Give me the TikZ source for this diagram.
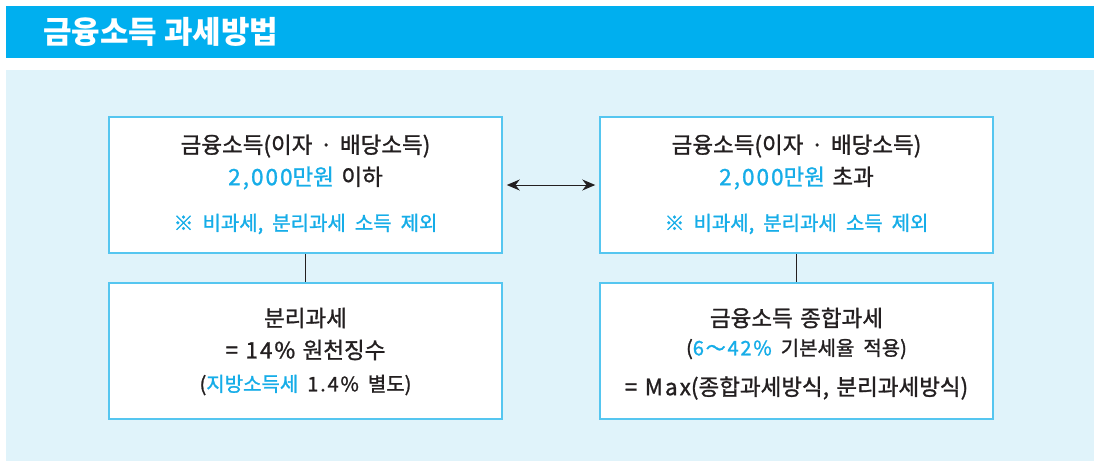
\documentclass[tikz,border=0pt]{standalone}
\usepackage{fontspec}
\setmainfont{Noto Sans CJK KR}
\newfontfamily\bodyfont{Noto Sans CJK KR}[FakeBold=1.2]
\usetikzlibrary{arrows.meta}
\definecolor{titlebar}{HTML}{00AFEF}
\definecolor{panel}{HTML}{E0F3FA}
\definecolor{boxline}{HTML}{55C6F0}
\definecolor{hl}{HTML}{16ADE8}
\definecolor{ink}{HTML}{231F20}
\newcommand{\lsp}[1]{{\addfontfeatures{LetterSpace=9}#1}}
\newcommand{\bigfont}{\bodyfont\fontsize{22.5}{26}\selectfont\spaceskip=0.33em\relax}
\newcommand{\smallfont}{\bodyfont\fontsize{20}{23}\selectfont\spaceskip=0.45em\relax}
\tikzset{
  box/.style={draw=boxline, line width=1.5pt, fill=white, minimum width=393pt, minimum height=136pt, inner sep=0pt},
  big/.style={text=ink, font=\bigfont, inner sep=0pt, anchor=center},
  small/.style={text=ink, font=\smallfont, inner sep=0pt, anchor=center},
  conn/.style={draw=ink, line width=1pt},
  dblarrow/.style={draw=ink, line width=1pt, {Stealth[length=13pt,width=11pt]}-{Stealth[length=13pt,width=11pt]}},
}
\begin{document}
\begin{tikzpicture}[x=1pt,y=-1pt]
\useasboundingbox (0,0) rectangle (1094,461);
\fill[white] (0,0) rectangle (1094,461);
% title bar
\fill[titlebar] (6,6) rectangle (1094,58);
\node[anchor=west, text=white, font=\fontsize{31}{35}\selectfont\bfseries, inner sep=0pt] (title) at (43,32) {금융소득 과세방법};
% panel
\fill[panel] (6,70) rectangle (1094,461);
% boxes
\node[box] (tl) at (305.5,185) {};
\node[box] (tr) at (796.5,185) {};
\node[box] (bl) at (305.5,351) {};
\node[box] (br) at (796.5,351) {};
% connectors
\draw[conn] (tl.south) -- (bl.north);
\draw[conn] (tr.south) -- (br.north);
\path (tl.east) ++(4,0) coordinate (al);
\path (tr.west) ++(-4,0) coordinate (ar);
\draw[dblarrow] (al) -- (ar);
% top-left text
\node[big] (tl1) at (305.5,146) {금융소득(이자 · 배당소득)};
\node[big] (tl2) at (305.5,178) {\textcolor{hl}{\lsp{2,000}만원} 이하};
\node[small, text=hl] (tl3) at (305.5,224) {※ 비과세, 분리과세 소득 제외};
% top-right text
\node[big] (tr1) at (796.5,146) {금융소득(이자 · 배당소득)};
\node[big] (tr2) at (796.5,178) {\textcolor{hl}{\lsp{2,000}만원} 초과};
\node[small, text=hl] (tr3) at (796.5,224) {※ 비과세, 분리과세 소득 제외};
% bottom-left text
\node[big] (bl1) at (305.5,318) {분리과세};
\node[big] (bl2) at (305.5,350) {= \lsp{14\%} 원천징수};
\node[small] (bl3) at (305.5,385) {(\textcolor{hl}{지방소득세} \lsp{1.4\%} 별도)};
% bottom-right text
\node[big] (br1) at (796.5,318) {금융소득 종합과세};
\node[small] (br2) at (796.5,349) {(\textcolor{hl}{\lsp{6～42\%}} 기본세율 적용)};
\node[big] (br3) at (796.5,388) {= \lsp{Max}(종합과세방식, 분리과세방식)};
\end{tikzpicture}
\end{document}
